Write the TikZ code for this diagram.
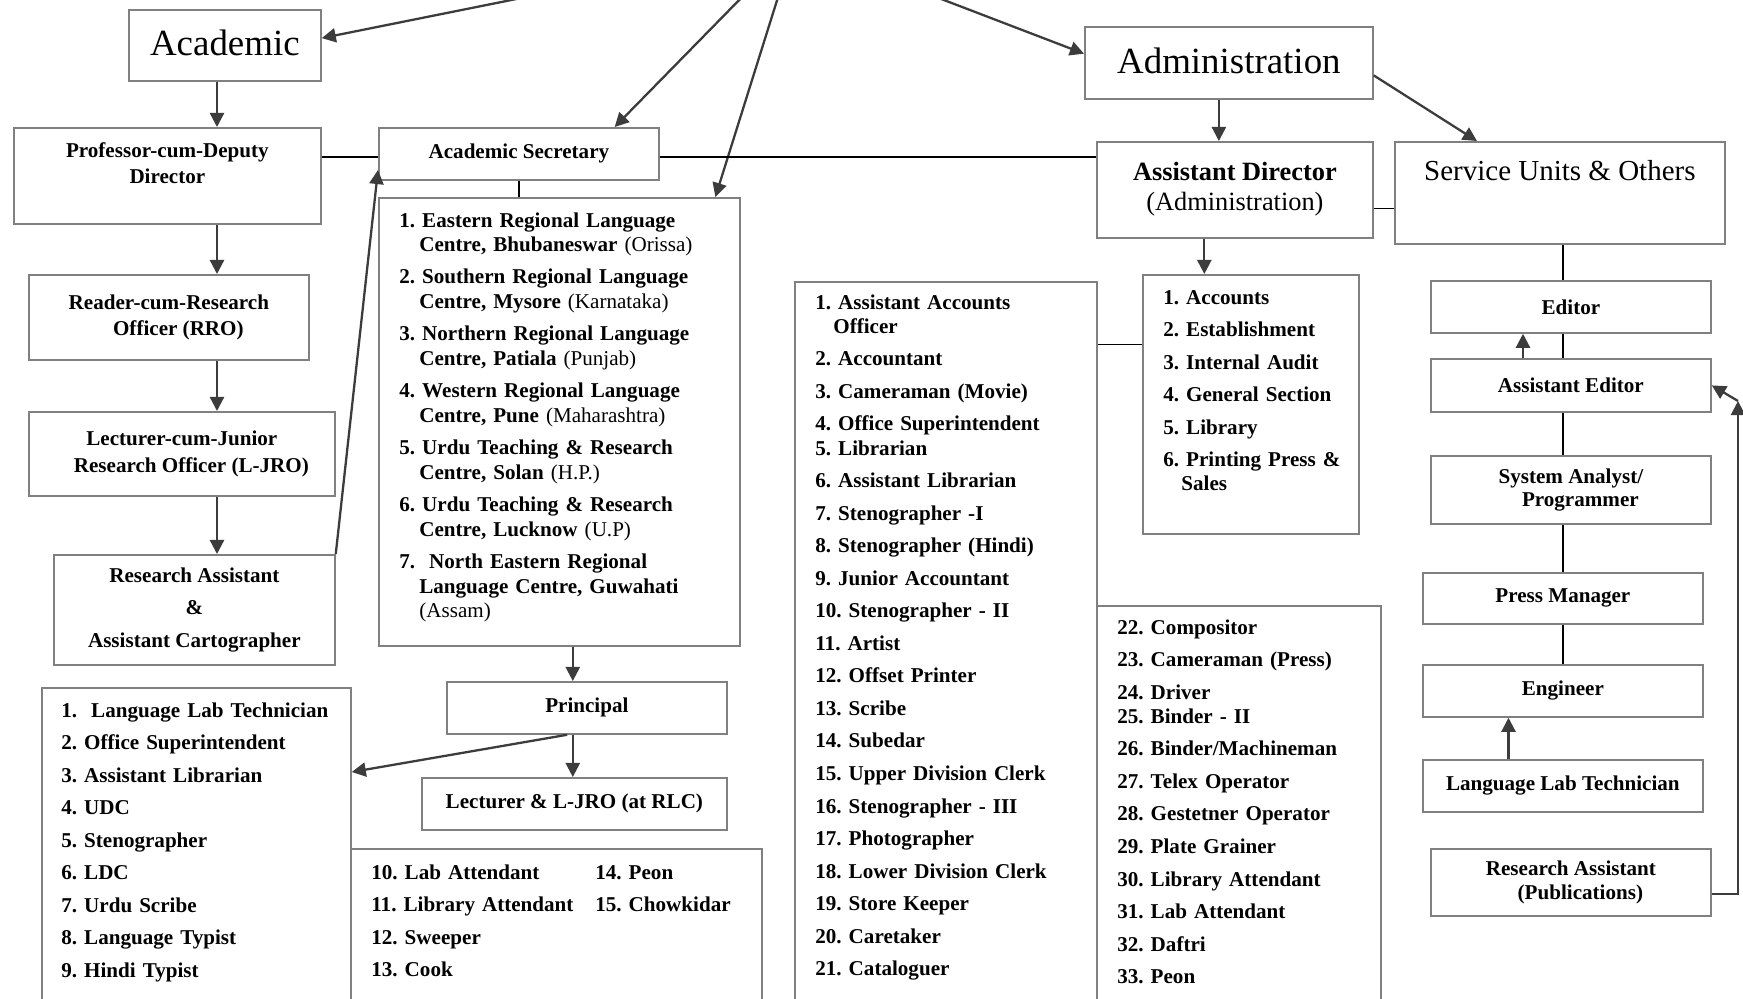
\documentclass[tikz,border=0pt]{standalone}
\usepackage{fontspec}
\setmainfont{Liberation Serif}
\usetikzlibrary{arrows.meta,calc}

\definecolor{framegray}{HTML}{808080}
\definecolor{arrowgray}{HTML}{3C3C3C}

\frenchspacing
\newcommand{\lstfnt}{\fontsize{12}{13.9}\selectfont\bfseries\frenchspacing}

\begin{document}
\begin{tikzpicture}[x=0.2mm,y=-0.2mm]
    \tikzset{
    frame/.style={draw=framegray,line width=1pt,inner sep=0pt,anchor=north west,align=center,font=\fontsize{12}{14.8}\selectfont\bfseries},
    boxsize/.style 2 args={minimum width=#1*0.2mm,minimum height=#2*0.2mm},
    big/.style={font=\fontsize{21}{25}\selectfont,text depth=0.25em},
    lst/.style={anchor=base west,inner sep=0pt,align=left,font=\lstfnt},
    arr/.style={draw=arrowgray,line width=1.3pt,-{Triangle[length=8pt,width=8pt]}},
    link/.style={draw=black,line width=1pt},
    }
    \useasboundingbox (0,0) rectangle (1743,998);
    \clip (0,0) rectangle (1743,998);
    \fill[white] (0,0) rectangle (1743,998);

    % academic side
    \node[frame,big,boxsize={192}{71}] (acad) at (128,9) {Academic};
    \node[frame,boxsize={307}{96}] (prof) at (13,127) {Professor-cum-Deputy\\Director\\\mbox{}};
    \node[frame,boxsize={280}{52}] (acsec) at (378,127) {Academic Secretary};
    \node[frame,boxsize={280}{85}] (rro) at (28,274) {Reader-cum-Research\\\hspace*{0.9em}Officer (RRO)};
    \node[frame,boxsize={306}{84},font=\fontsize{12}{15.4}\selectfont\bfseries] (ljro) at (28,411) {Lecturer-cum-Junior\\\hspace*{0.9em}Research Officer (L-JRO)};
    \node[frame,boxsize={281}{110},font=\fontsize{12}{18.5}\selectfont\bfseries] (ra) at (53,554) {Research Assistant\\\&\\Assistant Cartographer};
    \node[frame,boxsize={361}{448}] (rlc) at (378,197) {};
    \node[frame,boxsize={280}{52}] (princ) at (446,681) {Principal};
    \node[frame,boxsize={305}{52}] (lect) at (421,777) {Lecturer \& L-JRO (at RLC)};
    \node[frame,boxsize={309}{330}] (llist) at (41,687) {};
    \node[frame,boxsize={411}{200}] (mlist) at (350,848) {};

    % administration side
    \node[frame,big,boxsize={288}{72}] (admin) at (1084,26) {Administration};
    \node[frame,boxsize={276}{96},font=\fontsize{15}{17.2}\selectfont] (ad) at (1096,141) {\textbf{Assistant Director}\\(Administration)\\[-13pt]\mbox{}};
    \node[frame,boxsize={330}{102},font=\fontsize{16.5}{19.8}\selectfont] (su) at (1394,141) {Service Units \& Others\\[6pt]\mbox{}};
    \node[frame,boxsize={302}{750}] (alist) at (794,281) {};
    \node[frame,boxsize={216}{259}] (acc) at (1142,274) {};
    \node[frame,boxsize={284}{400}] (plist) at (1096,605) {};

    % service units column
    \node[frame,boxsize={280}{52}] (editor) at (1430,280) {Editor};
    \node[frame,boxsize={280}{53}] (aed) at (1430,358) {Assistant Editor};
    \node[frame,boxsize={280}{68},font=\fontsize{12}{13.1}\selectfont\bfseries] (sa) at (1430,455) {System Analyst/\\\hspace*{0.9em}Programmer};
    \node[frame,boxsize={280}{51}] (pm) at (1422,572) {Press Manager};
    \node[frame,boxsize={280}{52}] (eng) at (1422,664) {Engineer};
    \node[frame,boxsize={280}{52}] (llt) at (1422,759) {Language Lab Technician};
    \node[frame,boxsize={280}{67},font=\fontsize{12}{13.7}\selectfont\bfseries] (rapub) at (1430,848) {Research Assistant\\\hspace*{0.9em}(Publications)};

    % lists
    \node[lst,text width=340*0.2mm] (rlc-t) at (399,227) {1. Eastern Regional Language\\\hspace*{4mm}Centre, Bhubaneswar {\mdseries(Orissa)}\\[4.6pt]
    2. Southern Regional Language\\\hspace*{4mm}Centre, Mysore {\mdseries(Karnataka)}\\[4.6pt]
    3. Northern Regional Language\\\hspace*{4mm}Centre, Patiala {\mdseries(Punjab)}\\[4.6pt]
    4. Western Regional Language\\\hspace*{4mm}Centre, Pune {\mdseries(Maharashtra)}\\[4.6pt]
    5. Urdu Teaching \& Research\\\hspace*{4mm}Centre, Solan {\mdseries(H.P.)}\\[4.6pt]
    6. Urdu Teaching \& Research\\\hspace*{4mm}Centre, Lucknow {\mdseries(U.P)}\\[4.6pt]
    7.\ \ North Eastern Regional\\\hspace*{4mm}Language Centre, Guwahati\\\hspace*{4mm}{\mdseries(Assam)}};

    \node[lst,text width=280*0.2mm] (alist-t) at (815,309) {1. Assistant Accounts\\\hspace*{3.6mm}Officer\\[4.6pt]
    2. Accountant\\[4.6pt]
    3. Cameraman (Movie)\\[4.6pt]
    4. Office Superintendent\\
    5. Librarian\\[4.6pt]
    6. Assistant Librarian\\[4.6pt]
    7. Stenographer -I\\[4.6pt]
    8. Stenographer (Hindi)\\[4.6pt]
    9. Junior Accountant\\[4.6pt]
    10. Stenographer - II\\[4.6pt]
    11. Artist\\[4.6pt]
    12. Offset Printer\\[4.6pt]
    13. Scribe\\[4.6pt]
    14. Subedar\\[4.6pt]
    15. Upper Division Clerk\\[4.6pt]
    16. Stenographer - III\\[4.6pt]
    17. Photographer\\[4.6pt]
    18. Lower Division Clerk\\[4.6pt]
    19. Store Keeper\\[4.6pt]
    20. Caretaker\\[4.6pt]
    21. Cataloguer};

    \node[lst,text width=200*0.2mm] (acc-t) at (1163,304) {1. Accounts\\[4.6pt]
    2. Establishment\\[4.6pt]
    3. Internal Audit\\[4.6pt]
    4. General Section\\[4.6pt]
    5. Library\\[4.6pt]
    6. Printing Press \&\\\hspace*{3.6mm}Sales};

    \node[lst,text width=260*0.2mm] (plist-t) at (1117,634) {22. Compositor\\[4.6pt]
    23. Cameraman (Press)\\[4.6pt]
    24. Driver\\
    25. Binder - II\\[4.6pt]
    26. Binder/Machineman\\[4.6pt]
    27. Telex Operator\\[4.6pt]
    28. Gestetner Operator\\[4.6pt]
    29. Plate Grainer\\[4.6pt]
    30. Library Attendant\\[4.6pt]
    31. Lab Attendant\\[4.6pt]
    32. Daftri\\[4.6pt]
    33. Peon};

    \node[lst,text width=290*0.2mm] (llist-t) at (61,717) {1.\ \ Language Lab Technician\\[4.6pt]
    2. Office Superintendent\\[4.6pt]
    3. Assistant Librarian\\[4.6pt]
    4. UDC\\[4.6pt]
    5. Stenographer\\[4.6pt]
    6. LDC\\[4.6pt]
    7. Urdu Scribe\\[4.6pt]
    8. Language Typist\\[4.6pt]
    9. Hindi Typist};

    \node[lst,text width=220*0.2mm] (mlist-a) at (371,879) {10. Lab Attendant\\[4.6pt]
    11. Library Attendant\\[4.6pt]
    12. Sweeper\\[4.6pt]
    13. Cook};
    \node[lst,text width=160*0.2mm] (mlist-b) at (595,879) {14. Peon\\[4.6pt]
    15. Chowkidar};

    % connectors
    \coordinate (dir) at (795,-57);
    \coordinate (lspine) at (217,0);
    \coordinate (rspine) at (1563,0);
    \coordinate (bar) at (0,157);
    \coordinate (rbend) at (1738,401);
    \coordinate (pspine) at ($(princ.north west)!0.45!(princ.north east)$);
    \coordinate (adr) at ($(ad.north east)!0.69!(ad.south east)$);
    \coordinate (adb) at ($(ad.south west)!0.39!(ad.south east)$);
    \coordinate (accl) at ($(acc.north west)!0.27!(acc.south west)$);
    \coordinate (aeu) at ($(aed.north west)!0.33!(aed.north east)$);
    \coordinate (lltu) at ($(llt.north west)!0.307!(llt.north east)$);

    \draw[arr] (dir) -- ($(acad.north east)!0.4!(acad.south east)$);
    \draw[arr] (dir) -- ($(acsec.north west)!0.84!(acsec.north east)$);
    \draw[arr] (dir) -- ($(rlc.north west)!0.93!(rlc.north east)$);
    \draw[arr] (dir) -- ($(admin.north west)!0.375!(admin.south west)$);

    \foreach \a/\b in {acad/prof, prof/rro, rro/ljro, ljro/ra}
        \draw[arr] (\a.south -| lspine) -- (\b.north -| lspine);
    \draw[arr] (ra.north east) -- ($(acsec.south west)!0.2!(acsec.north west)$);
    \draw[link] (prof.east |- bar) -- (acsec.west |- bar);
    \draw[link] (acsec.east |- bar) -- (ad.west |- bar);
    \draw[link] (acsec.south) -- (acsec.south |- rlc.north);

    \draw[arr] (rlc.south -| pspine) -- (pspine);
    \draw[arr] (princ.south -| pspine) -- (lect.north -| pspine);
    \draw[arr] ($(princ.south west)!0.43!(princ.south east)$) -- ($(llist.north east)+(0,85)$);

    \draw[arr] ([xshift=-2mm]admin.south) -- ([xshift=-2mm]admin.south |- ad.north);
    \draw[arr] ($(admin.north east)!0.67!(admin.south east)$) -- ($(su.north west)!0.25!(su.north east)$);
    \draw[link] (adr) -- (adr -| su.west);
    \draw[arr] (adb) -- (adb |- acc.north);
    \draw[link] (accl) -- (accl -| alist.east);

    \foreach \a/\b in {su/editor, editor/aed, aed/sa, sa/pm, pm/eng}
        \draw[link] (\a.south -| rspine) -- (\b.north -| rspine);
    \draw[arr] (aeu) -- (aeu |- editor.south);
    \draw[arr] (lltu) -- (lltu |- eng.south);
    \draw[arr] ($(rapub.north east)!0.67!(rapub.south east)$) -| (rbend);
    \draw[arr] (rbend) -- (aed.east);
\end{tikzpicture}
\end{document}
